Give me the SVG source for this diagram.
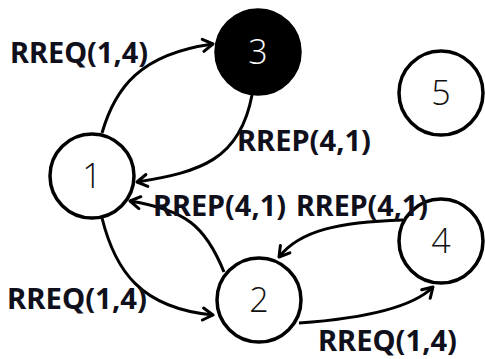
<svg xmlns="http://www.w3.org/2000/svg" width="485" height="359" viewBox="0 0 485 359">
  <defs>
    <marker id="arrow" markerUnits="userSpaceOnUse" markerWidth="16" markerHeight="16" viewBox="0 0 16 16" refX="13" refY="8" orient="auto">
      <path d="M3,2 L13,8 L3,14" fill="none" stroke="#000" stroke-width="3" stroke-linecap="round" stroke-linejoin="round"/>
    </marker>
  </defs>
  <style>
    .node circle { fill: #fff; stroke: #000; stroke-width: 3.5; }
    .node.dark circle { fill: #000; }
    .node text { font-family: "Open Sans", "Liberation Sans", sans-serif; font-weight: 300; font-size: 34px; text-anchor: middle; fill: #111; }
    .node.dark text { fill: #fff; }
    .edges path { fill: none; stroke: #000; stroke-width: 3; marker-end: url(#arrow); }
    .label { font-family: "Noto Sans", "Liberation Sans", sans-serif; font-weight: bold; font-size: 28px; fill: #10101c; }
  </style>
  <rect width="485" height="359" fill="#fff"/>

  <g class="edges">
    <!-- 1 -> 3 -->
    <path d="M102,133 C115,88 140,54 213,44"/>
    <!-- 3 -> 1 -->
    <path d="M252,95 C240,160 200,172 137,182"/>
    <!-- 1 -> 2 -->
    <path d="M102,218 C115,270 140,308 213,315"/>
    <!-- 2 -> 1 -->
    <path d="M224,272 C205,225 185,210 130,201"/>
    <!-- 4 -> 2 -->
    <path d="M403,220 C340,222 300,230 279,257"/>
    <!-- 2 -> 4 -->
    <path d="M299,323 C370,318 415,305 433,287"/>
  </g>

  <g id="node1" class="node"><circle cx="92" cy="176" r="42"/><text x="92" y="188">1</text></g>
  <g id="node2" class="node"><circle cx="259" cy="300" r="42"/><text x="259" y="312">2</text></g>
  <g id="node3" class="node dark"><circle cx="258" cy="52" r="42"/><text x="258" y="64">3</text></g>
  <g id="node4" class="node"><circle cx="441" cy="241" r="42"/><text x="441" y="253">4</text></g>
  <g id="node5" class="node"><circle cx="441" cy="93" r="42"/><text x="441" y="105">5</text></g>

  <g id="labels">
    <text class="label" x="10" y="63" textLength="138" lengthAdjust="spacingAndGlyphs">RREQ(1,4)</text>
    <text class="label" x="237" y="151" textLength="134" lengthAdjust="spacingAndGlyphs">RREP(4,1)</text>
    <text class="label" x="153" y="216" textLength="133" lengthAdjust="spacingAndGlyphs">RREP(4,1)</text>
    <text class="label" x="296" y="216" textLength="132" lengthAdjust="spacingAndGlyphs">RREP(4,1)</text>
    <text class="label" x="7" y="309" textLength="140" lengthAdjust="spacingAndGlyphs">RREQ(1,4)</text>
    <text class="label" x="318" y="351" textLength="139" lengthAdjust="spacingAndGlyphs">RREQ(1,4)</text>
  </g>
</svg>
